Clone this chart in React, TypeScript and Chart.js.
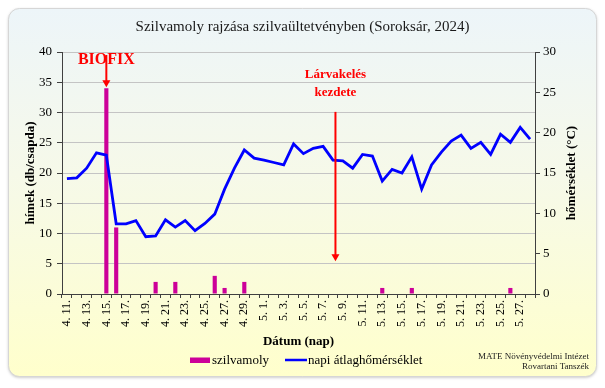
import React, { useEffect, useRef } from "react";
import { Chart, registerables } from "chart.js";

Chart.register(...registerables);

const dates: string[] = [
  "4. 11.", "4. 12.", "4. 13.", "4. 14.", "4. 15.", "4. 16.", "4. 17.", "4. 18.", "4. 19.", "4. 20.",
  "4. 21.", "4. 22.", "4. 23.", "4. 24.", "4. 25.", "4. 26.", "4. 27.", "4. 28.", "4. 29.", "4. 30.",
  "5. 1.", "5. 2.", "5. 3.", "5. 4.", "5. 5.", "5. 6.", "5. 7.", "5. 8.", "5. 9.", "5. 10.",
  "5. 11.", "5. 12.", "5. 13.", "5. 14.", "5. 15.", "5. 16.", "5. 17.", "5. 18.", "5. 19.", "5. 20.",
  "5. 21.", "5. 22.", "5. 23.", "5. 24.", "5. 25.", "5. 26.", "5. 27.", "5. 28.",
];

const moths: number[] = [
  0, 0, 0, 0, 34, 11, 0, 0, 0, 2,
  0, 2, 0, 0, 0, 3, 1, 0, 2, 0,
  0, 0, 0, 0, 0, 0, 0, 0, 0, 0,
  0, 0, 1, 0, 0, 1, 0, 0, 0, 0,
  0, 0, 0, 0, 0, 1, 0, 0,
];

const temps: number[] = [
  14.3, 14.4, 15.6, 17.5, 17.2, 8.7, 8.7, 9.1, 7.1, 7.2,
  9.2, 8.3, 9.1, 7.85, 8.75, 9.9, 13.0, 15.6, 17.85, 16.85,
  16.6, 16.3, 16.0, 18.6, 17.4, 18.06, 18.3, 16.6, 16.5, 15.6,
  17.3, 17.1, 14.0, 15.45, 15.0, 17.0, 13.0, 16.0, 17.6, 18.95,
  19.7, 18.05, 18.8, 17.3, 19.8, 18.8, 20.65, 19.2,
];

const leftTicks = { min: 0, max: 40, step: 5 };
const rightTicks = { min: 0, max: 30, step: 5 };

const titleText = "Szilvamoly rajzása szilvaültetvényben (Soroksár, 2024)";
const yTitle = "hímek (db/csapda)";
const y1Title = "hőmérséklet (°C)";
const xTitle = "Dátum (nap)";
const barLabel = "szilvamoly";
const lineLabel = "napi átlaghőmérséklet";
const sourceLines = ["MATE Növényvédelmi Intézet", "Rovartani Tanszék"];
const biofixIndex = 4;
const larvaIndex = 27.25;

const SERIF = "'Liberation Serif', 'Times New Roman', serif";
const MAGENTA = "#cc0099";
const BLUE = "#0000ff";
const RED = "#ff0000";

function arrow(ctx: CanvasRenderingContext2D, x: number, y0: number, y1: number) {
  ctx.save();
  ctx.strokeStyle = RED;
  ctx.fillStyle = RED;
  ctx.lineWidth = 2;
  ctx.beginPath();
  ctx.moveTo(x, y0);
  ctx.lineTo(x, y1 - 6);
  ctx.stroke();
  ctx.beginPath();
  ctx.moveTo(x - 4, y1 - 7);
  ctx.lineTo(x + 4, y1 - 7);
  ctx.lineTo(x, y1);
  ctx.closePath();
  ctx.fill();
  ctx.restore();
}

const decorPlugin = {
  id: "decor",
  beforeDraw(chart: any) {
    const ctx: CanvasRenderingContext2D = chart.ctx;
    ctx.save();
    ctx.fillStyle = "#ffffff";
    ctx.fillRect(0, 0, chart.width, chart.height);
    const x = 8.5, y = 8.5, w = 588, h = 368, r = 11;
    const g = ctx.createLinearGradient(0, y, 0, y + h);
    g.addColorStop(0, "#edf5f9");
    g.addColorStop(0.45, "#f6f9e9");
    g.addColorStop(1, "#ffffcc");
    ctx.shadowColor = "rgba(0,0,0,0.25)";
    ctx.shadowBlur = 3;
    ctx.shadowOffsetX = 0;
    ctx.shadowOffsetY = 1;
    ctx.beginPath();
    ctx.roundRect(x, y, w, h, r);
    ctx.fillStyle = g;
    ctx.fill();
    ctx.shadowColor = "transparent";
    ctx.strokeStyle = "#d6d6d6";
    ctx.lineWidth = 1;
    ctx.stroke();
    ctx.restore();
  },
  afterDraw(chart: any) {
    const ctx: CanvasRenderingContext2D = chart.ctx;
    const xs = chart.scales.x;
    const ys = chart.scales.y;
    const ca = chart.chartArea;
    ctx.save();
    // title
    ctx.fillStyle = "#1a1a1a";
    ctx.font = `15px ${SERIF}`;
    ctx.textAlign = "center";
    ctx.textBaseline = "middle";
    ctx.fillText(titleText, chart.width / 2, 27);

    // axis titles
    ctx.fillStyle = "#000";
    ctx.font = `bold 13px ${SERIF}`;
    ctx.save();
    ctx.translate(31, (ca.top + ca.bottom) / 2);
    ctx.rotate(-Math.PI / 2);
    ctx.fillText(yTitle, 0, 0);
    ctx.restore();
    ctx.save();
    ctx.translate(572, (ca.top + ca.bottom) / 2);
    ctx.rotate(-Math.PI / 2);
    ctx.fillText(y1Title, 0, 0);
    ctx.restore();
    ctx.fillText(xTitle, (ca.left + ca.right) / 2, 342);

    // legend
    ctx.fillStyle = MAGENTA;
    ctx.fillRect(190, 357.5, 20, 5.5);
    ctx.fillStyle = "#000";
    ctx.font = `13px ${SERIF}`;
    ctx.textAlign = "left";
    ctx.fillText(barLabel, 212, 360.5);
    ctx.strokeStyle = BLUE;
    ctx.lineWidth = 2.5;
    ctx.beginPath();
    ctx.moveTo(285, 360);
    ctx.lineTo(307, 360);
    ctx.stroke();
    ctx.fillText(lineLabel, 308, 360.5);

    // source
    ctx.font = `9px ${SERIF}`;
    ctx.textAlign = "right";
    ctx.fillStyle = "#222";
    ctx.fillText(sourceLines[0], 589, 356.5);
    ctx.fillText(sourceLines[1], 589, 366.5);

    // BIOFIX annotation
    const bx = xs.getPixelForValue(biofixIndex);
    ctx.fillStyle = RED;
    ctx.textAlign = "center";
    ctx.font = `bold 16px ${SERIF}`;
    ctx.fillText("BIOFIX", bx, ys.getPixelForValue(38.75));
    arrow(ctx, bx, ys.getPixelForValue(39.5), ys.getPixelForValue(moths[biofixIndex]) - 1);

    // Lárvakelés annotation
    const lx = xs.getPixelForValue(larvaIndex);
    ctx.font = `bold 13px ${SERIF}`;
    ctx.fillStyle = RED;
    ctx.fillText("Lárvakelés", lx, ys.getPixelForValue(36.2));
    ctx.fillText("kezdete", lx, ys.getPixelForValue(33.2));
    arrow(ctx, lx, ys.getPixelForValue(30.1), ys.getPixelForValue(5.4));
    ctx.restore();
  },
};

export default function App() {
  const ref = useRef<HTMLCanvasElement | null>(null);
  useEffect(() => {
    document.body.style.margin = "0";
    const canvas = ref.current!;
    const chart = new Chart(canvas, {
      type: "bar",
      data: {
        labels: dates,
        datasets: [
          {
            type: "line" as const,
            label: lineLabel,
            data: temps,
            borderColor: BLUE,
            backgroundColor: BLUE,
            borderWidth: 2.8,
            pointRadius: 0,
            tension: 0,
            yAxisID: "y1",
            order: 1,
          } as any,
          {
            type: "bar" as const,
            label: barLabel,
            data: moths,
            backgroundColor: MAGENTA,
            barPercentage: 0.42,
            categoryPercentage: 1,
            yAxisID: "y",
            order: 2,
          },
        ],
      },
      options: {
        responsive: false,
        animation: false,
        layout: { padding: { top: 52, left: 0, right: 0, bottom: 0 } },
        plugins: {
          legend: { display: false },
          title: { display: false },
          tooltip: { enabled: false },
        },
        scales: {
          x: {
            offset: true,
            grid: {
              display: true,
              drawOnChartArea: false,
              drawTicks: true,
              tickLength: 4,
              tickColor: "#404040",
              offset: true,
            },
            border: { color: "#404040", width: 1 },
            ticks: {
              autoSkip: false,
              minRotation: 90,
              maxRotation: 90,
              padding: 2,
              color: "#000",
              font: { family: SERIF, size: 12 },
              callback: (_v: any, i: number) => (i % 2 === 0 ? dates[i] : ""),
            },
            afterFit: (s: any) => {
              s.height = 94;
            },
          },
          y: {
            position: "left",
            min: leftTicks.min,
            max: leftTicks.max,
            ticks: {
              stepSize: leftTicks.step,
              padding: 5,
              color: "#000",
              font: { family: SERIF, size: 13 },
            },
            grid: {
              color: "#c4c4c4",
              lineWidth: 1,
              tickLength: 5,
              tickColor: "#404040",
            },
            border: { color: "#404040", width: 1 },
            afterFit: (s: any) => {
              s.width = 62;
            },
          },
          y1: {
            position: "right",
            min: rightTicks.min,
            max: rightTicks.max,
            ticks: {
              stepSize: rightTicks.step,
              padding: 3,
              color: "#000",
              font: { family: SERIF, size: 13 },
            },
            grid: {
              drawOnChartArea: false,
              tickLength: 5,
              tickColor: "#404040",
            },
            border: { color: "#404040", width: 1 },
            afterFit: (s: any) => {
              s.width = 70;
            },
          },
        },
      },
      plugins: [decorPlugin],
    });
    return () => chart.destroy();
  }, []);
  return (
    <div style={{ width: 605, height: 388, position: "relative" }}>
      <canvas ref={ref} width={605} height={388} style={{ display: "block" }} />
    </div>
  );
}
